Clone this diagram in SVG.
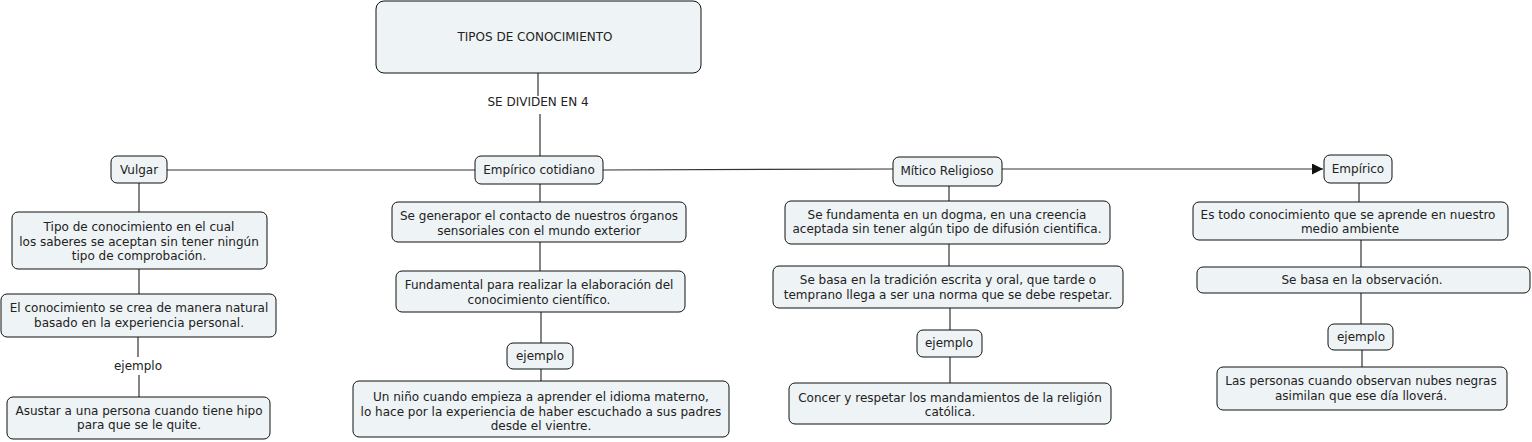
<svg xmlns="http://www.w3.org/2000/svg" width="1532" height="442" viewBox="0 0 1532 442">
<style>
.n rect{fill:#eef3f5;stroke:#111;stroke-width:1}
text{font-family:"DejaVu Sans",Verdana,sans-serif;font-size:12px;fill:#222;text-anchor:middle;dominant-baseline:central}
.c line{stroke:#333;stroke-width:1.2}
</style>
<defs>
<marker id="arr" viewBox="0 0 10 10" refX="10" refY="5" markerWidth="11" markerHeight="11" markerUnits="userSpaceOnUse" orient="auto">
<path d="M0,0 L10,5 L0,10 Z" fill="#111"/>
</marker>
</defs>
<rect width="1532" height="442" fill="#fff"/>
<g class="c">
<line x1="538" y1="73" x2="538" y2="96"/>
<line x1="540" y1="114" x2="540" y2="156"/>
<line x1="167" y1="170" x2="475" y2="170"/>
<line x1="603" y1="170" x2="893" y2="169"/>
<line x1="1002" y1="169" x2="1323" y2="169" marker-end="url(#arr)"/>
<line x1="139" y1="183" x2="139" y2="212"/>
<line x1="139" y1="269" x2="139" y2="294"/>
<line x1="138" y1="337" x2="138" y2="357"/>
<line x1="139" y1="375" x2="139" y2="397"/>
<line x1="540" y1="184" x2="540" y2="202"/>
<line x1="540" y1="242" x2="540" y2="271"/>
<line x1="541" y1="312" x2="541" y2="343"/>
<line x1="541" y1="369" x2="541" y2="381"/>
<line x1="949" y1="186" x2="949" y2="201"/>
<line x1="949" y1="244" x2="949" y2="266"/>
<line x1="950" y1="308" x2="950" y2="330"/>
<line x1="950" y1="357" x2="950" y2="383"/>
<line x1="1359" y1="183" x2="1359" y2="202"/>
<line x1="1361" y1="240" x2="1361" y2="267"/>
<line x1="1361" y1="293" x2="1361" y2="324"/>
<line x1="1362" y1="350" x2="1362" y2="367"/>
</g>
<text x="538" y="102">SE DIVIDEN EN 4</text>
<text x="138" y="366">ejemplo</text>

<g id="tipos" class="n"><rect x="376" y="1" width="325" height="72" rx="8"/><text x="535" y="37">TIPOS DE CONOCIMIENTO</text></g>

<g id="vulgar" class="n"><rect x="111" y="156" width="56" height="27" rx="6"/><text x="139" y="169.5">Vulgar</text></g>
<g id="vulgar1" class="n"><rect x="12" y="212" width="255" height="57" rx="6"/>
<text x="139" y="227">Tipo de conocimiento en el cual</text><text x="139" y="241.5">los saberes se aceptan sin tener ningún</text><text x="139" y="256">tipo de comprobación.</text></g>
<g id="vulgar2" class="n"><rect x="1" y="294" width="275" height="43" rx="6"/>
<text x="139" y="308">El conocimiento se crea de manera natural</text><text x="139" y="323">basado en la experiencia personal.</text></g>
<g id="vulgar3" class="n"><rect x="7" y="397" width="263" height="42" rx="6"/>
<text x="139" y="410.5">Asustar a una persona cuando tiene hipo</text><text x="139" y="425">para que se le quite.</text></g>

<g id="cotidiano" class="n"><rect x="475" y="156" width="128" height="28" rx="6"/><text x="539" y="170">Empírico cotidiano</text></g>
<g id="cot1" class="n"><rect x="392" y="202" width="294" height="40" rx="6"/>
<text x="539" y="216">Se generapor el contacto de nuestros órganos</text><text x="539" y="231">sensoriales con el mundo exterior</text></g>
<g id="cot2" class="n"><rect x="396" y="271" width="289" height="41" rx="6"/>
<text x="539" y="285">Fundamental para realizar la elaboración del</text><text x="539" y="300">conocimiento científico.</text></g>
<g id="cotej" class="n"><rect x="507" y="343" width="66" height="26" rx="6"/><text x="540" y="356">ejemplo</text></g>
<g id="cot3" class="n"><rect x="353" y="381" width="376" height="56" rx="6"/>
<text x="541" y="397">Un niño cuando empieza a aprender el idioma materno,</text><text x="541" y="411.5">lo hace por la experiencia de haber escuchado a sus padres</text><text x="541" y="426">desde el vientre.</text></g>

<g id="mitico" class="n"><rect x="893" y="157" width="109" height="29" rx="6"/><text x="947" y="171">Mítico Religioso</text></g>
<g id="mit1" class="n"><rect x="785" y="201" width="325" height="43" rx="6"/>
<text x="947" y="214.5">Se fundamenta en un dogma, en una creencia</text><text x="947" y="229">aceptada sin tener algún tipo de difusión cientifica.</text></g>
<g id="mit2" class="n"><rect x="773" y="266" width="350" height="42" rx="6"/>
<text x="948" y="280">Se basa en la tradición escrita y oral, que tarde o</text><text x="948" y="294.5">temprano llega a ser una norma que se debe respetar.</text></g>
<g id="mitej" class="n"><rect x="917" y="330" width="65" height="27" rx="6"/><text x="949" y="343">ejemplo</text></g>
<g id="mit3" class="n"><rect x="789" y="383" width="322" height="41" rx="6"/>
<text x="950" y="397.5">Concer y respetar los mandamientos de la religión</text><text x="950" y="412">católica.</text></g>

<g id="empirico" class="n"><rect x="1324" y="155" width="68" height="28" rx="6"/><text x="1358" y="169">Empírico</text></g>
<g id="emp1" class="n"><rect x="1193" y="202" width="315" height="38" rx="6"/>
<text x="1348" y="215">Es todo conocimiento que se aprende en nuestro</text><text x="1350" y="229">medio ambiente</text></g>
<g id="emp2" class="n"><rect x="1197" y="267" width="333" height="26" rx="6"/><text x="1362" y="280">Se basa en la observación.</text></g>
<g id="empej" class="n"><rect x="1328" y="324" width="65" height="26" rx="6"/><text x="1361" y="337">ejemplo</text></g>
<g id="emp3" class="n"><rect x="1217" y="367" width="290" height="43" rx="6"/>
<text x="1361" y="381">Las personas cuando observan nubes negras</text><text x="1361" y="396">asimilan que ese día lloverá.</text></g>
</svg>
